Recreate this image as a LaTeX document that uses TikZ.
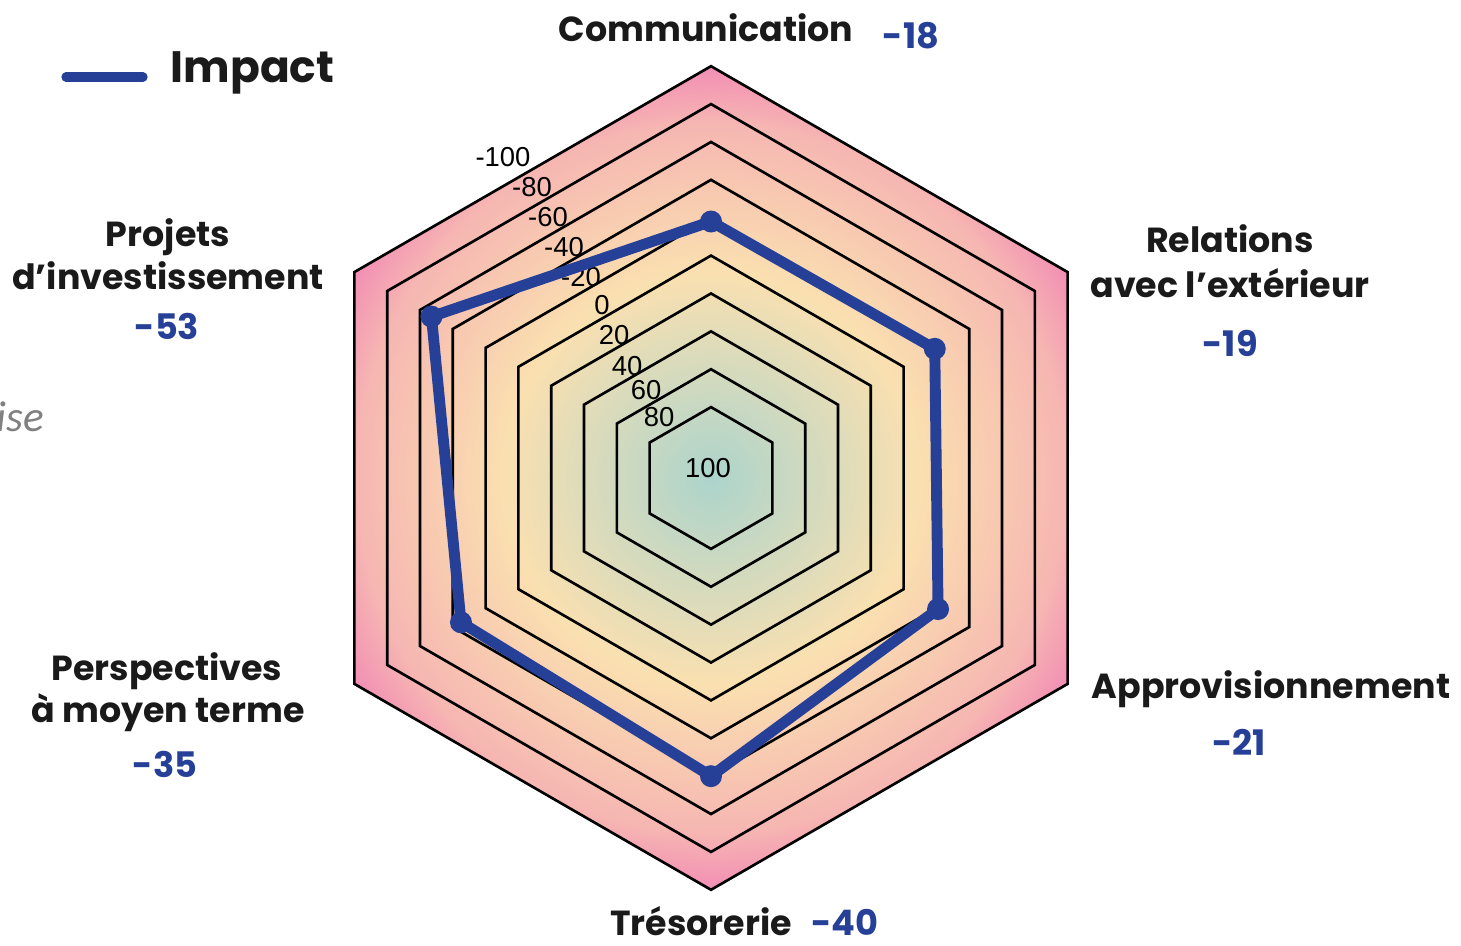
\documentclass[tikz,border=0pt]{standalone}
\usepackage{fontspec}
\setmainfont{Poppins}
\newfontfamily\tickfont{Liberation Sans}
\newfontfamily\sidefont{Carlito}
\definecolor{impactblue}{RGB}{38,64,152}
\definecolor{labelblack}{RGB}{26,26,26}
\definecolor{hubteal}{RGB}{172,212,204}
\definecolor{midcream}{RGB}{250,224,176}
\definecolor{rimpink}{RGB}{246,182,178}
\definecolor{tippink}{RGB}{242,142,181}
\pgfdeclareradialshading{radarglow}{\pgfpoint{0bp}{0bp}}{color(0bp)=(hubteal); color(12.5bp)=(midcream); color(21.5bp)=(rimpink); color(25bp)=(tippink); color(50bp)=(tippink)}
\begin{document}
\begin{tikzpicture}[x=0.01cm,y=0.01cm,
  axislabel/.style={font=\bfseries\fontsize{9.9}{12}\selectfont, text=labelblack, inner sep=0pt, anchor=base},
  scorelabel/.style={font=\bfseries\fontsize{10}{12}\selectfont, text=impactblue, inner sep=0pt, anchor=base},
  ticklabel/.style={font=\tickfont\fontsize{7.8}{9}\selectfont, inner sep=0pt},
  ringline/.style={draw=black, line width=0.75pt},
  impactline/.style={draw=impactblue, line width=3.1pt, line join=round, line cap=round}]
\useasboundingbox (0,0) rectangle (1461,945);

% shaded hexagon
\begin{scope}[shift={(711,467)}]
\clip (90:411.8) -- (30:411.8) -- (-30:411.8) -- (-90:411.8) -- (-150:411.8) -- (150:411.8) -- cycle;
\shade[shading=radarglow] (0,0) circle (411.8);
\end{scope}

% rings, 80 down to -100
\begin{scope}[shift={(711,467)}]
\foreach \v in {80,60,...,-100} {
  \pgfmathsetmacro\r{33+(100-\v)*1.894}
  \draw[ringline] (90:\r) -- (30:\r) -- (-30:\r) -- (-90:\r) -- (-150:\r) -- (150:\r) -- cycle;
}
\end{scope}

% scale values
\foreach \v/\x/\y in {-100/503/788, -80/532/758, -60/548/728, -40/564/698, -20/581/668,
                      0/602/640, 20/614/610, 40/627/579, 60/646/555, 80/659/528, 100/708/477}
  \node[ticklabel] (tick\v) at (\x,\y) {\v};

% impact scores
\begin{scope}[shift={(711,467)}]
\foreach \name/\ang/\val in {comm/90/-18, rel/30/-19, appro/-30/-21, treso/-90/-40, persp/210/-35, proj/150/-53} {
  \pgfmathsetmacro\r{33+(100-\val)*1.894}
  \coordinate (\name) at (\ang:\r);
}
\end{scope}
\draw[impactline] (comm) -- (rel) -- (appro) -- (treso) -- (persp) -- (proj) -- cycle;
\foreach \name in {comm,rel,appro,treso,persp,proj}
  \fill[impactblue] (\name) circle (11);

% axis names
\node[axislabel] (lblComm) at (706,903) {Communication};
\node[scorelabel] (valComm) at (911,896) {-18};
\node[axislabel] (lblRel) at (1230,692) {Relations};
\node[axislabel] (lblRelb) at (1230,647) {avec l’extérieur};
\node[scorelabel] (valRel) at (1230,588) {-19};
\node[axislabel] (lblAppro) at (1271,247) {Approvisionnement};
\node[scorelabel] (valAppro) at (1239,190) {-21};
\node[axislabel] (lblTreso) at (701,10) {Trésorerie};
\node[scorelabel] (valTreso) at (845,10) {-40};
\node[axislabel] (lblPersp) at (167,265) {Perspectives};
\node[axislabel] (lblPerspb) at (168,223) {à moyen terme};
\node[scorelabel] (valPersp) at (165,168) {-35};
\node[axislabel] (lblProj) at (168,698) {Projets};
\node[axislabel] (lblProjb) at (168,655) {d’investissement};
\node[scorelabel] (valProj) at (167,605) {-53};

% legend
\coordinate (keyA) at (66,868);
\coordinate (keyB) at (143,868);
\draw[draw=impactblue, line width=2.65pt, line cap=round] (keyA) -- (keyB);
\node[font=\bfseries\fontsize{12.5}{15}\selectfont, text=labelblack, inner sep=0pt, anchor=base west] (keyText) at (170,862) {Impact};

% cut-off text at the left edge
\node[font=\sidefont\itshape\fontsize{12.3}{14}\selectfont, text=gray, inner sep=0pt, anchor=base east] (sideText) at (45,513) {ise};
\end{tikzpicture}
\end{document}
